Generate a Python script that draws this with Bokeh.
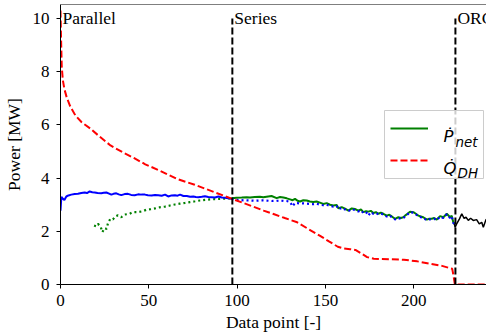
from bokeh.plotting import figure
from bokeh.models import Range1d, Span, Legend, LegendItem, Label, FixedTicker
from bokeh.core.properties import value
from bokeh.embed import file_html
from bokeh.resources import INLINE

# ---------------- data ----------------
# Parallel mode: net power (solid blue) and alternative (dotted green)
par_x = [0, 0.5, 1.4, 2.2, 3.3, 4.5, 6.1, 8, 9.9, 11.8,
         13.7, 15, 16.5, 18, 19.4, 21, 23.1, 24.5, 26, 27.5,
         28.8, 30, 31.6, 33, 34.4, 36.3, 38.2, 40, 42, 44,
         45.8, 47.8, 49.5, 51.6, 53.5, 55.4, 57.3, 59.2, 61, 62.9,
         64.8, 66.3, 67.7, 69.6, 71.5, 73.4, 75.2, 76.6, 78, 80,
         81.8, 83.7, 85.6, 87.5, 89.4, 91.3, 93.1, 95, 96.9]
par_pnet = [2.78, 3.3, 3.22, 3.18, 3.31, 3.35, 3.38, 3.4, 3.41, 3.44,
            3.46, 3.44, 3.50, 3.47, 3.46, 3.44, 3.43, 3.45, 3.46, 3.42,
            3.38, 3.41, 3.43, 3.39, 3.36, 3.4, 3.41, 3.37, 3.36, 3.39,
            3.38, 3.38, 3.36, 3.35, 3.37, 3.36, 3.34, 3.38, 3.31, 3.35,
            3.36, 3.34, 3.38, 3.33, 3.33, 3.30, 3.31, 3.29, 3.28, 3.30,
            3.32, 3.29, 3.28, 3.27, 3.31, 3.27, 3.26, 3.24, 3.22]

par_alt_x = [19, 20.2, 21.2, 22.7, 23.7, 25, 26.1, 26.9, 28.2, 29.7,
             31, 32.5, 34.4, 36.3, 39.1, 41, 43.9, 46.7, 48.6, 51,
             53.5, 56, 59.2, 62, 64.8, 67.5, 70.5, 73.3, 76.2, 79,
             81.8, 84.7, 87.5, 90.3, 93.1, 96.9]
par_alt = [2.22, 2.19, 2.28, 2.18, 1.97, 2.12, 2.09, 2.31, 2.47, 2.45,
           2.56, 2.6, 2.53, 2.63, 2.66, 2.72, 2.72, 2.76, 2.81, 2.83,
           2.86, 2.9, 2.93, 2.97, 3.01, 3.04, 3.07, 3.1, 3.13, 3.16,
           3.18, 3.2, 3.21, 3.22, 3.23, 3.24]

# Series mode: net power (solid green) and alternative (dotted blue)
ser_x = [96.9, 99.7, 102.6, 105.4, 107.3, 110, 112.9, 114.8, 117.6, 119.5,
         122.4, 124.3, 126.2, 128.1, 130, 131.4, 132.8, 134.2, 135.6, 137.5,
         139.4, 141.2, 143.1, 145, 146.9, 148.8, 150.7, 152.6, 154.5, 156.4,
         157.3, 159.2, 161.1, 163, 164.9, 166.7, 168.6, 170.1, 171.5, 173,
         174.3, 175.7, 177.1, 178.6, 180, 181.4, 182.8, 184.7, 186.2, 187.6,
         189.4, 191.3, 192.7, 194.1, 195.1, 196.5, 197.9, 199.8, 201.2, 202.6,
         204, 205.4, 207.4, 208.8, 210.2, 211.6, 213, 214.9, 216.8, 218.7,
         220.6, 221.5, 222.4, 223]
ser_pnet = [3.24, 3.26, 3.27, 3.28, 3.27, 3.29, 3.3, 3.28, 3.31, 3.33,
            3.25, 3.29, 3.27, 3.24, 3.2, 3.17, 3.22, 3.15, 3.12, 3.17,
            3.16, 3.12, 3.1, 3.12, 3.08, 3.03, 3.06, 3.0, 2.97, 2.99,
            2.87, 2.91, 2.85, 2.78, 2.86, 2.84, 2.78, 2.82, 2.72, 2.76,
            2.74, 2.77, 2.69, 2.72, 2.66, 2.70, 2.66, 2.59, 2.62, 2.56,
            2.47, 2.53, 2.50, 2.53, 2.59, 2.66, 2.74, 2.72, 2.66, 2.59,
            2.56, 2.53, 2.44, 2.47, 2.47, 2.50, 2.44, 2.57, 2.53, 2.66,
            2.53, 2.59, 2.34, 2.28]
ser_alt = [3.22, 3.18, 3.17, 3.16, 3.16, 3.15, 3.16, 3.16, 3.15, 3.14,
           3.15, 3.14, 3.15, 3.14, 3.1, 2.94, 3.07, 3.06, 3.05, 3.05,
           3.04, 3.03, 3.02, 3.04, 3.0, 2.98, 3.0, 2.96, 2.93, 2.95,
           2.83, 2.88, 2.82, 2.76, 2.83, 2.80, 2.75, 2.79, 2.69, 2.73,
           2.59, 2.72, 2.66, 2.69, 2.64, 2.67, 2.63, 2.56, 2.6, 2.53,
           2.45, 2.5, 2.47, 2.5, 2.56, 2.64, 2.72, 2.7, 2.64, 2.57,
           2.53, 2.51, 2.41, 2.45, 2.45, 2.47, 2.42, 2.55, 2.5, 2.64,
           2.5, 2.56, 2.32, 2.26]

# ORC mode: net power (solid black)
orc_x = [223, 223.4, 224.3, 225.9, 227.2, 228.5, 229.6, 230.9, 232.2, 233.7,
         235.6, 237.1, 238.5, 239.4, 240.9, 242]
orc_pnet = [2.28, 2.15, 2.28, 2.47, 2.66, 2.49, 2.53, 2.41, 2.49, 2.41,
            2.44, 2.28, 2.34, 2.15, 2.44, 2.47]

# District heating heat (dashed red)
qdh_x = [0, 0.3, 0.7, 1.3, 2.2, 3.5, 5.5, 8.5, 12, 17,
         22, 28.3, 35, 41.5, 48, 56.6, 66, 76, 86.8, 97.2,
         103, 109, 115, 121, 127, 134, 140, 147, 152, 157,
         160, 164, 167, 170, 173.6, 177.4, 186, 194.4, 202, 209.5,
         216, 221.8, 222.6, 223.3, 242]
qdh = [10.3, 9.3, 8.2, 7.7, 7.35, 7.04, 6.7, 6.35, 6.1, 5.86,
       5.57, 5.23, 4.98, 4.76, 4.52, 4.27, 3.97, 3.75, 3.48, 3.22,
       3.08, 2.93, 2.78, 2.64, 2.5, 2.34, 2.1, 1.83, 1.62, 1.42,
       1.36, 1.33, 1.3, 1.18, 1.03, 0.97, 0.95, 0.93, 0.87, 0.78,
       0.7, 0.59, 0.3, 0.0, 0.0]

switch_x = [97.3, 223.6]
switch_top = [10, 10]
switch_bottom = [0, 0]
mode_x = [0, 97.3, 223.6]
mode_y = [10, 10, 10]
mode_names = ["Parallel", "Series", "ORC"]

x_ticks = [0, 50, 100, 150, 200]
y_ticks = [0, 2, 4, 6, 8, 10]
X_MAX = 241.2
Y_MAX = 10.53

# ---------------- figure ----------------
FRAME_W, FRAME_H = 426, 280
p = figure(width=486, height=336, output_backend="svg", toolbar_location=None,
           x_range=Range1d(0, X_MAX), y_range=Range1d(0, Y_MAX),
           min_border_left=60, min_border_right=0, min_border_top=4,
           min_border_bottom=52)
p.outline_line_color = None
p.grid.visible = False

SERIF = "Liberation Serif"
for ax in (p.xaxis[0], p.yaxis[0]):
    ax.axis_line_color = "black"
    ax.axis_line_width = 1
    ax.major_tick_line_color = "black"
    ax.major_tick_line_width = 1
    ax.major_tick_out = 4
    ax.major_tick_in = 0
    ax.minor_tick_out = 0
    ax.minor_tick_in = 0
    ax.major_label_text_font = SERIF
    ax.major_label_text_font_size = "17px"
    ax.major_label_text_color = "black"
    ax.axis_label_text_font = SERIF
    ax.axis_label_text_font_size = "17.5px"
    ax.axis_label_text_font_style = "normal"
    ax.axis_label_text_color = "black"

p.xaxis[0].ticker = FixedTicker(ticks=x_ticks)
p.yaxis[0].ticker = FixedTicker(ticks=y_ticks)
p.xaxis[0].axis_label = "Data point [-]"
p.yaxis[0].axis_label = "Power [MW]"
p.xaxis[0].major_label_standoff = 6
p.xaxis[0].axis_label_standoff = 3
p.yaxis[0].major_label_standoff = 7
p.yaxis[0].axis_label_standoff = 6

p.add_layout(Span(location=Y_MAX, dimension="width", line_color="black", line_width=1))

# lines
g_par = p.line(par_alt_x, par_alt, line_color="green", line_width=2.2, line_dash="2 3")
g_ser = p.line(ser_x, ser_pnet, line_color="green", line_width=2)
b_par = p.line(par_x, par_pnet, line_color="blue", line_width=2)
b_ser = p.line(ser_x, ser_alt, line_color="blue", line_width=2.2, line_dash="2 3")
r_q = p.line(qdh_x, qdh, line_color="red", line_width=2, line_dash="7 3")
k_orc = p.line(orc_x, orc_pnet, line_color="black", line_width=1.5)
p.segment(x0=switch_x, y0=switch_bottom, x1=switch_x, y1=switch_top,
          line_color="black", line_width=2, line_dash="7 3")

p.text(x=mode_x, y=mode_y, text=mode_names, x_offset=2, y_offset=-1,
       text_font=value(SERIF), text_font_size=value("17.5px"),
       text_baseline="alphabetic", text_align="left", text_color="black")

# legend frame (box given in frame pixels, converted to axis units)
BOX_L, BOX_R, BOX_B, BOX_T = 324, 423, 106, 174
p.quad(left=[BOX_L * X_MAX / FRAME_W], right=[BOX_R * X_MAX / FRAME_W],
       bottom=[BOX_B * Y_MAX / FRAME_H], top=[BOX_T * Y_MAX / FRAME_H],
       fill_color="white", fill_alpha=0.8, line_color="#cccccc", line_width=1,
       level="annotation")

legend = Legend(items=[LegendItem(label=value(" "), renderers=[g_ser]),
                       LegendItem(label=value(" "), renderers=[r_q])],
                location=(BOX_L, BOX_B), glyph_width=38, glyph_height=24,
                label_height=24, label_width=35, label_standoff=14,
                padding=6, spacing=8, margin=0,
                border_line_alpha=0, background_fill_alpha=0,
                label_text_font_size="1px")
p.add_layout(legend)

SANS = "DejaVu Sans"
for txt, x, y, size in [("\u1E56", 383, 148, "16.5px"), ("net", 395, 143, "13.5px"),
                        ("Q\u0307", 383, 116, "16.5px"), ("DH", 397, 112, "13.5px")]:
    p.add_layout(Label(x=x, y=y, x_units="screen", y_units="screen", text=txt,
                       text_font=SANS, text_font_style="italic", text_font_size=size,
                       text_baseline="alphabetic", text_color="black",
                       level="overlay"))

open("out.html", "w").write(file_html(p, INLINE))
